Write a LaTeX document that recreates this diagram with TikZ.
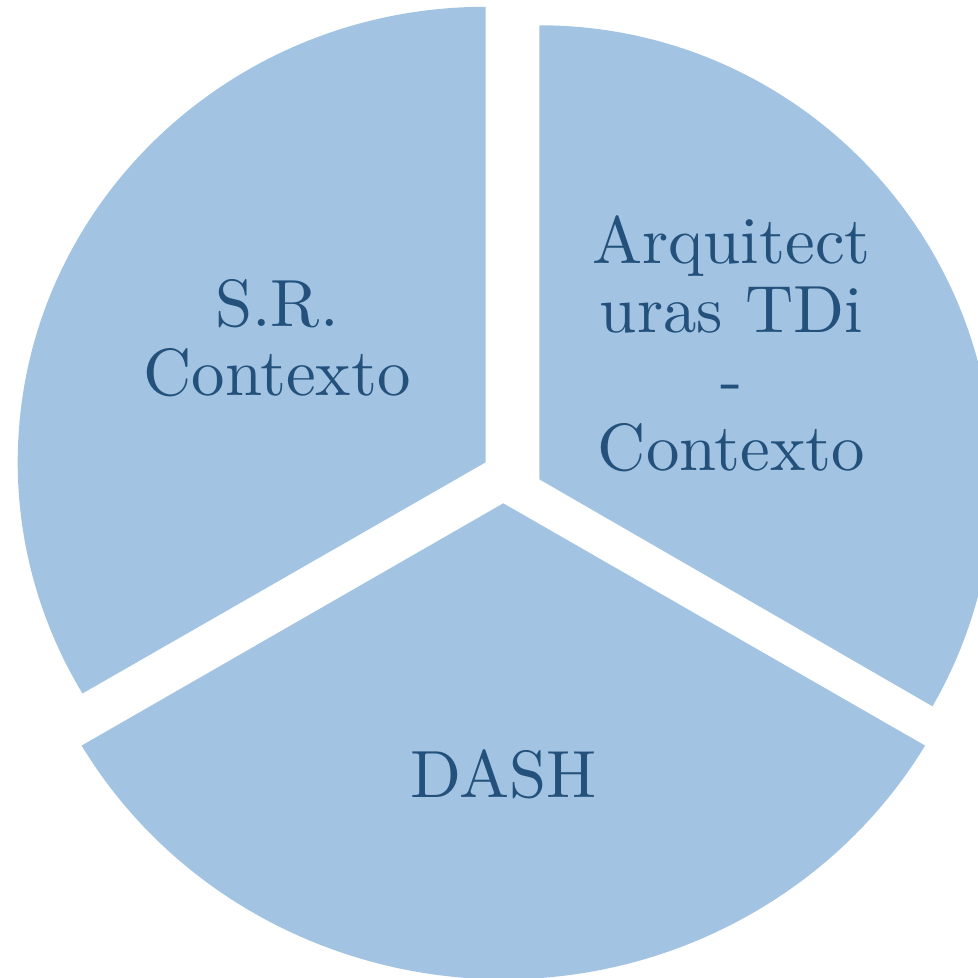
\documentclass[tikz,border=0pt]{standalone}
\usepackage{xcolor}
\definecolor{piefill}{RGB}{162,196,226}
\definecolor{pietext}{RGB}{35,81,124}
\tikzset{
  slice/.style={fill=piefill, draw=none},
  % 10pt design size, enlarged, for the heavier strokes of the labels
  slicelabel/.style={text=pietext, align=center, inner sep=0pt,
    font=\fontsize{10}{10.33}\selectfont, scale=1.9, transform shape}
}
\begin{document}
\begin{tikzpicture}[x=0.1mm, y=0.1mm]
  \useasboundingbox (0,0) rectangle (978,978);
  \clip (0,0) rectangle (978,978);

  % upper-left slice
  \fill[slice] (485.7,515.7) -- (485.7,971.2)
    arc[start angle=90, end angle=210.5, x radius=468, y radius=455.5] -- cycle;

  % upper-right slice
  \fill[slice] (539.3,498.7) -- (539.3,952.7)
    arc[start angle=90, end angle=-30, radius=454] -- cycle;

  % bottom slice
  \fill[slice] (503.3,474.7) -- (81.6,232.4)
    arc[start angle=210.6, end angle=329.4, x radius=490, y radius=476] -- cycle;

  \node[slicelabel] (sr)   at (277,640.2) {S.R.\\Contexto};
  \node[slicelabel] (arq)  at (731.5,634.5) {Arquitect\\uras TDi\\-\\Contexto};
  \node[slicelabel] (dash) at (503.5,203.2) {DASH};
\end{tikzpicture}
\end{document}
